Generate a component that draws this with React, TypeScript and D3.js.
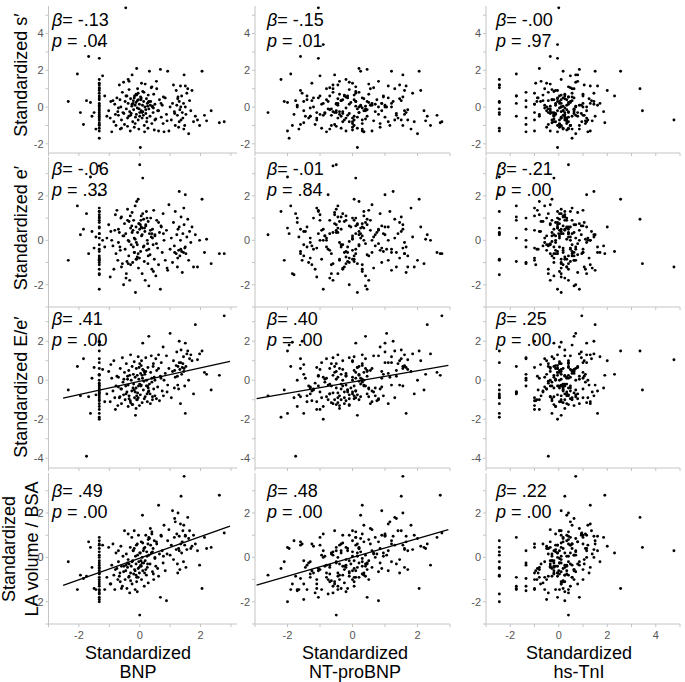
import React from "react";
import * as d3 from "d3";

// Per-subject standardized values (same subjects in every panel)
const bnp = [
  -2.35, -2.05, -1.95, -1.85, -1.75, -1.68, -1.62, -1.57, -1.5, -1.44,
  -1.33, -1.33, -1.33, -1.33, -1.33, -1.33, -1.33, -1.33, -1.33, -1.33,
  -1.33, -1.33, -1.33, -1.33, -1.33, -1.33, -1.33, -1.33, -1.33, -1.33,
  -1.33, -1.33, -1.33, -1.33, -1.33, -1.33, -1.33, -1.33, -1.22, -1.15,
  -1.08, -1.02, -0.97, -0.92, -0.88, -0.85, -0.82, -0.78, -0.75, -0.72,
  -0.7, -0.67, -0.64, -0.62, -0.6, -0.57, -0.55, -0.53, -0.5, -0.48,
  -0.46, -0.44, -0.42, -0.4, -0.38, -0.36, -0.35, -0.33, -0.31, -0.3,
  -0.28, -0.26, -0.25, -0.23, -0.21, -0.2, -0.18, -0.17, -0.15, -0.14,
  -0.12, -0.11, -0.1, -0.08, -0.07, -0.05, -0.04, -0.03, -0.01, 0.0,
  0.02, 0.03, 0.05, 0.06, 0.08, 0.09, 0.1, 0.12, 0.13, 0.15,
  0.17, 0.18, 0.2, 0.22, 0.23, 0.25, 0.27, 0.28, 0.3, 0.32,
  0.34, 0.36, 0.38, 0.4, 0.42, 0.44, 0.46, 0.48, 0.5, 0.53,
  0.56, 0.59, 0.62, 0.65, 0.68, 0.71, 0.74, 0.77, 0.8, 0.84,
  0.88, 0.92, 0.96, 1.0, 1.04, 1.08, 1.11, 1.14, 1.17, 1.2,
  1.22, 1.24, 1.26, 1.28, 1.3, 1.32, 1.34, 1.36, 1.38, 1.4,
  1.42, 1.44, 1.46, 1.48, 1.5, 1.52, 1.55, 1.58, 1.61, 1.64,
  1.68, 1.72, 1.77, 1.83, 1.9, 1.97, 2.05, 2.13, 2.35, 2.62,
  -0.65, -0.4, -0.22, -0.05, 0.1, 0.26, 0.4, -0.3, 0.05, -0.15,
  0.3, -0.52, -0.1, 0.2, -0.35, 0.0, 0.45, -0.25, 0.14, -0.6,
  0.7, 0.9, 1.35, 1.45, 1.25, -0.8, 0.55, 0.62, -0.45, 0.35,
  -0.18, 0.08, 0.24, -0.08, 0.16, -0.38, 0.42, -0.02, 0.28, 0.5,
  1.3, 1.5, 1.15, 0.78, -0.7, -0.95, 2.2, 2.78, -0.12, 0.04,
];

const ntProBNP = [
  -2.1, -1.9, -2.6, -1.6, -1.75, -1.6, -2.0, -1.45, -1.1, -1.65,
  -2.2, -1.5, -1.0, -1.85, -0.6, -1.3, -1.7, -0.9, -2.0, -1.4,
  -1.1, -1.6, -0.75, -1.25, -1.95, -0.45, -1.5, -1.05, -1.8, -0.8,
  -1.35, -1.7, -0.95, -1.2, -0.55, -1.55, -1.15, -0.7, -1.0, -1.4,
  -1.3, -0.5, -1.1, -0.8, -1.25, -0.3, -0.95, -0.65, -1.05, -0.4,
  -0.9, -0.45, -0.7, -1.2, -0.25, -0.6, -0.85, -0.1, -0.55, -0.75,
  -1.05, -0.65, -0.15, -0.5, -0.9, 0.05, -0.4, -0.6, -0.2, -0.45,
  -0.3, 0.1, -0.55, -0.1, -0.35, -0.7, 0.0, -0.25, -0.45, 0.15,
  -0.05, -0.4, 0.2, -0.2, -0.6, 0.05, -0.3, 0.3, -0.1, -0.5,
  0.15, -0.2, 0.35, 0.0, -0.45, 0.25, 0.1, -0.15, 0.45, 0.05,
  0.2, 0.5, -0.1, 0.35, 0.0, 0.6, 0.15, -0.25, 0.4, 0.25,
  0.45, 0.1, 0.65, 0.3, 0.8, 0.2, 0.5, 0.0, 0.7, 0.4,
  0.55, 0.9, 0.3, 0.75, 0.45, 1.0, 0.6, 0.85, 0.35, 1.1,
  0.8, 1.2, 0.6, 1.05, 1.3, 0.9, 1.45, 0.7, 1.15, 1.6,
  1.0, 1.35, 1.55, 0.85, 1.25, 1.7, 1.1, 1.5, 0.95, 1.65,
  1.4, 1.2, 1.55, 1.55, 1.0, 1.6, 1.85, 1.3, 2.0, 1.5,
  1.6, 2.1, 1.9, 2.3, 1.7, 2.4, 2.05, 2.6, 2.2, 2.7,
  -0.8, -0.2, -0.5, 0.1, -0.3, 0.4, 0.1, -0.65, 0.3, 0.0,
  0.1, -0.85, 0.05, 0.45, -0.1, -0.35, 0.3, -0.5, 0.2, -0.35,
  0.9, 0.65, 1.2, 1.8, 1.45, -1.0, 0.8, 0.4, -0.7, 0.55,
  -0.15, 0.2, 0.0, -0.35, 0.35, -0.2, 0.25, 0.15, 0.5, 0.3,
  1.1, 1.65, 1.35, 0.95, -1.3, -1.5, 2.25, 2.75, -0.4, 0.05,
];

const hsTnI = [
  -2.45, -1.75, -2.45, -1.35, -0.43, -0.35, -2.45, -0.8, -1.0, 0.4,
  -2.45, -0.5, -1.75, 0.1, -2.45, -0.2, -1.35, -0.05, -2.45, 0.33,
  -1.0, -0.05, -2.45, -0.95, 0.55, -1.75, -0.28, -0.05, -2.45, -0.58,
  -1.35, -0.13, -2.45, -0.85, 0.25, -1.0, -0.43, -2.45, 0.48, 0.03,
  -1.75, -0.35, 0.1, -1.35, -0.65, 0.4, -1.0, -0.05, -0.88, 0.63,
  -0.2, -2.45, 0.18, -0.5, 0.33, -1.35, -0.28, 0.7, 0.03, -0.9,
  0.0, -0.43, -1.75, 0.1, -0.13, 0.55, -0.73, 0.4, -1.0, -0.05,
  -0.35, 0.18, 0.78, -0.2, -1.35, 0.33, 0.03, 1.0, -0.58, 0.1,
  0.48, -0.13, -0.8, 0.25, 0.63, -0.28, 0.1, 0.85, -1.0, 0.4,
  -0.05, 0.55, 0.18, -0.5, 1.15, 0.33, -0.2, 0.7, 0.03, 0.48,
  0.1, -0.35, 0.93, 0.25, -0.13, 1.3, 0.4, -0.65, 0.63, 0.18,
  0.78, -0.05, 0.48, 1.1, 0.1, -0.43, 1.0, 0.33, 1.45, -0.2,
  0.55, 0.18, 1.3, -0.28, 0.85, 0.4, 1.6, 0.03, 1.2, 0.63,
  0.25, 1.5, -0.35, 0.7, 1.2, 0.1, 1.05, 1.85, 0.48, -0.13,
  0.93, 1.05, 0.4, -0.5, 1.45, 0.63, 1.3, 0.25, 2.3, 0.78,
  0.1, 1.7, 0.7, 0.48, 1.15, -0.2, 1.45, 3.35, 0.7, 1.35,
  1.15, 2.0, 0.33, 1.5, 4.75, 0.85, 2.55, 1.0, 3.45, 1.9,
  -0.2, 0.25, 0.03, 0.55, 0.1, -0.35, 0.4, 0.18, -0.05, 0.33,
  0.48, -0.13, 0.1, 0.63, -0.28, 0.25, 0.03, 0.4, -0.43, 0.18,
  1.0, 1.38, 1.0, 0.55, 1.25, -0.8, 0.78, -0.05, 0.25, 0.85,
  0.18, -0.2, 0.33, 0.55, -0.05, 0.1, 0.7, -0.35, 0.4, 0.03,
  1.15, 1.6, 0.63, 0.4, -0.58, -0.75, 1.1, 0.95, 0.25, -0.28,
];

const sPrime = [
  0.3, 1.8, -0.3, -0.95, 0.35, 2.75, 0.25, -0.5, -0.3, -1.2,
  1.5, -0.2, 0.6, -1.0, 1.2, -0.5, 0.0, 3.4, -1.3, 0.4,
  -0.7, 0.9, -0.1, 1.3, -1.7, 0.2, -0.85, 2.65, -0.4, 1.0,
  -0.6, 0.1, -1.15, 0.5, -0.3, 0.75, -0.95, 1.05, 1.7, 0.6,
  -0.5, -0.2, -0.6, -1.35, 0.35, -0.8, 0.15, -1.0, 0.5, -0.25,
  -0.45, 1.2, -1.2, 0.0, -0.7, 0.8, -0.3, 1.35, -0.95, 0.3,
  5.4, -0.1, 0.6, -1.05, 0.2, -0.5, 1.4, -0.25, -1.3, 0.45,
  -0.35, 0.05, 1.75, -0.8, 0.35, -0.15, -1.1, 0.6, 0.1, -0.55,
  0.25, -0.4, 2.1, -0.05, 1.0, -0.7, 0.4, -1.2, 0.15, -0.3,
  -2.2, 0.55, -0.2, 1.3, -0.6, 0.1, 0.85, -0.45, 0.3, -1.0,
  0.0, 1.25, -0.35, 0.45, -0.8, 0.2, -1.15, 0.65, -0.1, 1.95,
  -0.5, 0.3, 1.05, -0.9, 0.0, -0.3, 0.7, -1.25, 0.15, -0.65,
  1.0, -0.2, -1.3, 0.4, 2.05, -0.55, 0.1, -0.9, -1.35, 0.5,
  -0.4, 1.95, -1.3, 0.0, -0.7, 0.2, 1.2, -0.25, -1.0, 0.9,
  0.1, -0.45, 0.55, -1.1, 0.3, -0.15, 1.15, -0.7, 0.6, -0.3,
  -0.6, 0.2, 1.75, -1.0, 0.0, -0.4, 0.75, 1.0, -1.45, 0.35,
  -0.2, 0.9, -0.8, -0.5, -0.7, -1.0, 1.95, -0.45, -0.2, -0.85,
  0.4, -0.6, 0.2, 0.75, -0.25, 0.05, 1.1, -0.45, 0.5, -0.9,
  0.3, -0.35, 0.65, -0.15, 0.95, -0.5, -0.05, 0.15, 0.8, -1.15,
  0.2, -0.75, 0.0, -1.2, 0.45, -0.4, 1.4, -0.2, 0.6, 0.1,
  0.5, -0.3, -0.6, 0.35, -1.35, 1.5, 0.05, -0.1, 0.25, -0.7,
  -0.8, 1.15, -0.35, 0.55, -0.05, 0.3, -0.75, -0.8, 0.7, 0.4,
];

const ePrime = [
  -0.9, 1.55, 0.25, 0.5, 1.2, -0.6, 2.85, 0.4, -0.35, 0.15,
  1.3, -0.2, 0.9, -1.5, 3.35, -0.8, 1.0, -2.2, 0.55, 0.6,
  1.45, -0.5, 2.05, -1.1, 0.3, 1.05, -0.7, 1.3, -1.55, 0.1,
  -1.0, 0.8, -0.85, -0.4, 1.15, -0.9, -1.3, 0.3, 0.0, -0.3,
  0.1, 0.7, -1.65, 0.0, -0.25, -1.3, 0.45, -0.6, 1.35, -0.9,
  0.5, 0.35, -0.45, 1.0, -1.2, -1.05, 0.2, -2.0, 0.75, -0.4,
  0.3, -1.5, -0.95, 1.4, 0.0, -0.7, 0.85, -1.8, 1.1, 0.55,
  -0.2, 0.65, 1.25, -1.0, -0.3, 0.9, 0.1, -0.55, 1.55, -2.35,
  0.6, -0.1, 1.75, -0.75, 0.35, 1.85, -1.25, 0.75, -0.8, 3.4,
  0.7, -0.5, 1.1, 0.2, -1.5, 0.55, 2.8, -0.3, 0.95, -0.95,
  0.4, -1.8, 0.65, 1.3, -0.45, 0.0, -1.05, 0.85, -2.05, 0.3,
  -0.65, 1.0, 0.15, -1.3, 0.5, -0.2, 1.35, -0.85, 0.25, -1.6,
  0.9, -0.35, -1.1, 0.35, -2.2, 0.6, -0.55, 1.2, 0.0, -0.9,
  0.45, -1.35, 1.6, -0.4, 0.1, -1.0, 0.8, -0.25, 1.3, -0.6,
  0.25, -1.2, 0.5, -0.45, 2.2, -0.7, 0.0, 1.05, -0.5, -1.45,
  0.3, -0.55, 0.7, -0.35, 2.05, -0.6, 0.15, 0.95, -0.9, 0.4,
  -0.1, 0.6, -1.2, 0.25, -1.2, 0.0, 1.85, -0.55, -1.05, -0.6,
  -0.3, 0.9, 0.45, -0.6, 1.2, -0.15, 0.3, -1.1, 0.6, 0.05,
  -0.4, 0.2, -0.85, 0.7, -0.05, 0.5, -1.4, 0.35, -0.25, 1.05,
  0.65, -1.25, -0.4, 1.45, -0.8, 1.15, -0.15, 0.8, -1.7, 0.45,
  -0.55, 0.25, 1.0, -0.2, 0.55, -1.05, 0.1, 0.75, -0.7, 0.2,
  0.6, -0.3, -0.55, 0.3, -0.1, 0.4, 0.05, -0.6, -0.85, 0.9,
];

const eeRatio = [
  -0.5, 0.7, -0.8, 1.1, -3.9, -0.85, -1.7, 0.1, 0.65, -0.75,
  -1.9, 0.3, -0.6, 1.95, -1.2, -0.4, 0.0, -2.0, 1.5, -0.8,
  -1.5, 0.6, -0.25, -1.05, 1.8, -0.65, -1.7, 0.25, -0.9, 1.1,
  -0.3, -1.35, 0.9, -0.5, -1.0, 2.0, -0.15, -0.7, 0.55, -1.1,
  -0.7, 0.45, -1.1, 0.1, -0.55, 1.0, -0.9, -0.3, 0.2, -1.3,
  0.15, -0.9, 0.6, -0.45, -1.2, 1.15, -0.1, -0.75, 0.4, -1.0,
  -0.3, 0.85, -0.6, 0.05, -1.35, 0.5, -0.8, 0.25, -1.05, 1.3,
  0.0, -0.55, 0.7, -1.25, 0.3, -0.2, 0.95, -0.9, 0.15, -1.8,
  -0.4, 0.6, -1.0, 0.25, -0.65, 1.2, -0.3, 0.05, -1.3, 0.85,
  -0.75, 0.35, -0.25, 1.0, -1.15, 0.1, 1.9, -0.5, 0.5, -0.95,
  0.3, -0.85, 1.15, -0.3, 0.0, -1.1, 0.65, -0.6, 2.25, -0.2,
  -0.7, 0.4, 1.25, -0.1, -1.0, 0.7, -0.45, 0.15, -0.8, 1.1,
  0.5, -0.35, 1.3, -1.05, 0.2, 0.9, -0.55, 1.7, 0.0, 0.35,
  1.25, -0.25, 0.6, 2.4, -0.9, 0.45, 1.0, -0.4, 0.15, 0.75,
  1.45, 0.2, 0.7, -0.45, 2.0, 0.55, -1.2, 1.55, 0.3, 0.65,
  0.85, 1.2, 0.6, -0.3, 1.9, 0.7, 1.35, 1.5, 0.0, 1.1,
  1.3, 1.0, -0.7, 2.85, 1.05, 1.35, 1.5, 0.4, -0.5, 0.25,
  -0.85, 0.2, -0.4, -0.9, 0.55, -0.3, 0.1, -1.15, 0.75, -0.6,
  -0.55, 0.05, -0.8, 0.45, -0.95, -0.2, 0.85, -1.25, -0.05, -0.45,
  0.1, -0.6, 0.9, 0.45, -0.25, -1.5, -0.95, 0.6, -0.7, -1.2,
  -0.5, 0.25, -0.7, -1.0, 0.4, -0.25, -0.85, 0.65, -0.4, 0.0,
  0.9, -1.7, 0.5, -0.8, -0.35, 0.8, 0.3, 3.3, -1.45, -0.3,
];

const laviBSA = [
  -0.2, -1.45, -0.8, -0.95, -0.85, 0.7, 0.45, -0.45, -1.4, -1.45,
  -0.5, -1.9, 0.9, -1.2, 0.25, -0.75, -1.5, 0.0, -2.0, -0.35,
  -1.0, 0.55, -1.65, -0.6, 0.4, -1.3, -0.15, -1.8, 0.75, -0.9,
  -0.25, -1.45, 0.1, -0.7, -1.1, 0.6, -1.6, -0.45, 0.55, -1.45,
  -0.9, 0.45, -1.2, -0.35, 0.6, -0.8, -1.45, 0.2, -0.5, -1.0,
  0.3, -0.85, -1.1, 0.5, -0.4, -1.3, 0.05, -0.65, 1.2, -1.0,
  -0.6, 0.15, -1.4, -0.25, 1.05, -0.9, -0.3, -1.6, 0.45, -0.7,
  -0.4, 0.9, -1.2, -0.15, 0.3, -0.75, 1.2, -0.55, -1.45, 0.05,
  -0.3, 0.55, -0.9, -1.55, 0.1, -0.5, 1.0, -0.2, -0.7, -2.6,
  0.2, -0.35, 0.7, -1.0, 0.0, 1.9, -0.6, 0.3, -0.25, -1.3,
  0.45, -0.15, 1.0, -0.8, 0.25, -0.45, 0.6, -1.15, 0.1, 0.85,
  -0.3, 0.55, 0.2, 1.05, -0.65, 0.4, -1.0, 0.75, 0.0, -0.4,
  0.6, -0.5, 2.35, 0.15, -1.8, 0.95, 0.3, -0.25, 1.45, -0.6,
  -1.95, 0.75, 1.25, 0.1, 0.55, 2.1, -0.1, 0.9, 1.6, 0.35,
  1.05, -0.3, 2.0, 0.4, 0.95, -0.55, 1.5, 2.75, 0.2, 0.7,
  1.2, -0.2, 3.65, 0.55, 1.0, -0.45, 0.35, 1.8, 0.85, 1.2,
  0.4, 0.5, 1.0, 0.6, 0.3, -0.35, -1.4, 0.9, 0.45, 2.8,
  -0.7, -0.45, 0.3, -0.9, 0.65, -0.3, 1.15, -1.05, -0.4, -0.6,
  0.9, -0.4, -1.1, -0.55, -0.85, 0.2, -0.75, -0.2, 0.4, -1.4,
  1.0, 0.15, 0.6, 1.45, -0.7, -0.55, 0.7, -0.85, -0.35, 1.3,
  0.4, -0.25, 0.05, 0.6, -0.7, -0.1, 0.25, -0.45, 0.8, -0.05,
  0.3, 0.95, 1.75, 0.05, -0.2, -1.2, 0.4, 1.1, -0.8, -0.15,
];

const xNames = ["BNP", "NT-proBNP", "hs-TnI"];
const yNames = [
  ["Standardized s\u2032"],
  ["Standardized e\u2032"],
  ["Standardized E/e\u2032"],
  ["Standardized", "LA volume / BSA"],
];
const betaLabels = [
  ["-.13", "-.15", "-.00"],
  ["-.06", "-.01", "-.21"],
  [".41", ".40", ".25"],
  [".49", ".48", ".22"],
];
const pLabels = [
  [".04", ".01", ".97"],
  [".33", ".84", ".00"],
  [".00", ".00", ".00"],
  [".00", ".00", ".00"],
];
// fitted lines [slope, intercept] (row, col) — only E/e' and LAVI vs BNP / NT-proBNP
const fitSlopes = [
  [null, null, null],
  [null, null, null],
  [0.344, 0.29, null],
  [0.486, 0.424, null],
];
const fitIntercepts = [
  [null, null, null],
  [null, null, null],
  [-0.05, -0.09, null],
  [-0.035, 0.0, null],
];
const fitXRange = [
  [-2.52, 2.97],
  [-2.95, 2.95],
  [0, 0],
];

const xDomains = [
  [-3, 3.2],
  [-3, 3],
  [-3, 5],
];
const yDomains = [
  [-2.5, 5.5],
  [-3, 3.75],
  [-4.5, 3.6],
  [-3, 3.8],
];
const xTickLabels = [
  [-2, 0, 2],
  [-2, 0, 2],
  [-2, 0, 2, 4],
];

// layout
const colPx = [
  [48.5, 237],
  [255, 450],
  [486, 680],
];
const rowPx = [
  [153, 6],
  [307, 157],
  [468, 310],
  [624, 473],
];
const statX = [52, 267, 496];
const statY = [26, 175, 325, 497];
const yLabelCenter = [75, 228, 387, 549];
const xLabelCenter = [138, 355, 579];

const FONT = "'Liberation Sans', Arial, Helvetica, sans-serif";
const AXIS = "#c4c4c4";
const TICKTXT = "#555";

export default function App() {
  const xVars = [bnp, ntProBNP, hsTnI];
  const yVars = [sPrime, ePrime, eeRatio, laviBSA];
  const n = Math.min(...xVars.map((a) => a.length), ...yVars.map((a) => a.length));

  const panels: React.ReactNode[] = [];
  for (let r = 0; r < 4; r++) {
    for (let c = 0; c < 3; c++) {
      const xs = d3.scaleLinear().domain(xDomains[c]).range(colPx[c]);
      const ys = d3.scaleLinear().domain(yDomains[r]).range(rowPx[r]);
      const xv = xVars[c];
      const yv = yVars[r];
      const xTicks = d3.range(Math.ceil(xDomains[c][0]), Math.floor(xDomains[c][1]) + 1);
      const yTicks = d3.range(Math.ceil(yDomains[r][0]), Math.floor(yDomains[r][1]) + 1);
      const x0 = colPx[c][0];
      const y0 = rowPx[r][0];
      const slope = fitSlopes[r][c];
      const icpt = fitIntercepts[r][c];
      let fitPath: string | null = null;
      if (slope !== null && icpt !== null) {
        const lx = fitXRange[c];
        fitPath =
          d3.line<number>()
            .x((d) => xs(d))
            .y((d) => ys(slope * d + icpt))(lx) || null;
      }
      panels.push(
        <g key={`p${r}-${c}`}>
          <line x1={x0} x2={x0} y1={rowPx[r][1]} y2={y0} stroke={AXIS} strokeWidth={1} />
          <line x1={x0} x2={colPx[c][1]} y1={y0} y2={y0} stroke={AXIS} strokeWidth={1} />
          {yTicks.map((t) => (
            <g key={`yt${t}`}>
              <line x1={x0 - 3} x2={x0} y1={ys(t)} y2={ys(t)} stroke={AXIS} />
              {t % 2 === 0 && (
                <text
                  x={x0 - 5}
                  y={ys(t)}
                  dy="0.35em"
                  textAnchor="end"
                  fontSize={11}
                  fill={TICKTXT}
                  fontFamily={FONT}
                >
                  {t}
                </text>
              )}
            </g>
          ))}
          {xTicks.map((t) => (
            <line key={`xt${t}`} x1={xs(t)} x2={xs(t)} y1={y0} y2={y0 + 3} stroke={AXIS} />
          ))}
          {r === 3 &&
            xTickLabels[c].map((t) => (
              <text
                key={`xl${t}`}
                x={xs(t)}
                y={y0 + 15}
                textAnchor="middle"
                fontSize={11}
                fill={TICKTXT}
                fontFamily={FONT}
              >
                {t}
              </text>
            ))}
          {d3.range(n).map((i) => (
            <circle key={i} cx={xs(xv[i])} cy={ys(yv[i])} r={1.45} fill="#000" />
          ))}
          {fitPath && <path d={fitPath} stroke="#000" strokeWidth={1.3} fill="none" />}
          <text x={statX[c]} y={statY[r]} fontSize={18} fontFamily={FONT} fill="#000">
            <tspan fontStyle="italic">{"\u03B2"}</tspan>
            {"= " + betaLabels[r][c]}
          </text>
          <text x={statX[c]} y={statY[r] + 21} fontSize={18} fontFamily={FONT} fill="#000">
            <tspan fontStyle="italic">p</tspan>
            {" = " + pLabels[r][c]}
          </text>
        </g>
      );
    }
  }

  return (
    <svg
      width={685}
      height={682}
      style={{ position: "absolute", left: 0, top: 0, background: "#fff" }}
    >
      <rect x={0} y={0} width={685} height={682} fill="#fff" />
      {panels}
      {yNames.map((lines, r) =>
        lines.length === 1 ? (
          <text
            key={`yn${r}`}
            transform={`translate(27,${yLabelCenter[r]}) rotate(-90)`}
            textAnchor="middle"
            fontSize={18}
            fontFamily={FONT}
            fill="#000"
          >
            {lines[0]}
          </text>
        ) : (
          <g key={`yn${r}`}>
            {lines.map((l, k) => (
              <text
                key={k}
                transform={`translate(${15 + k * 23},${yLabelCenter[r]}) rotate(-90)`}
                textAnchor="middle"
                fontSize={18}
                fontFamily={FONT}
                fill="#000"
              >
                {l}
              </text>
            ))}
          </g>
        )
      )}
      {xNames.map((name, c) => (
        <g key={`xn${c}`}>
          <text x={xLabelCenter[c]} y={659} textAnchor="middle" fontSize={18} fontFamily={FONT} fill="#000">
            Standardized
          </text>
          <text x={xLabelCenter[c]} y={678} textAnchor="middle" fontSize={18} fontFamily={FONT} fill="#000">
            {name}
          </text>
        </g>
      ))}
    </svg>
  );
}
